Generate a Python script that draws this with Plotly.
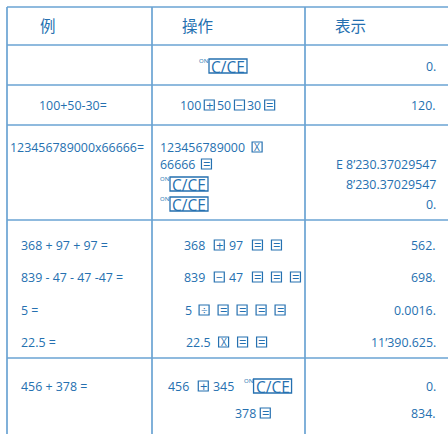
import plotly.graph_objects as go

# ---------------- data ----------------
header = ["例", "操作", "表示"]

examples = ["100+50-30=", "123456789000x66666=",
            "368 + 97 + 97 =", "839 - 47 - 47 -47 =", "5 =", "22.5 =",
            "456 + 378 ="]

# key sequences, one list per printed line; tokens in KEY_SYMBOLS are drawn as
# boxed keys, "C/CE" as the ON/C/CE key, anything else as typed digits
operations = [
    ["C/CE"],
    ["100", "+", "50", "-", "30", "="],
    ["123456789000", "x"],
    ["66666", "="],
    ["C/CE"],
    ["C/CE"],
    ["368", "+", "97", "=", "="],
    ["839", "-", "47", "=", "=", "="],
    ["5", "÷", "=", "=", "=", "="],
    ["22.5", "x", "=", "="],
    ["456", "+", "345", "C/CE"],
    ["378", "="],
]

displays = ["0.", "120.", "E 8’230.37029547", "8’230.37029547", "0.",
            "562.", "698.", "0.0016.", "11’390.625.", "0.", "834."]

KEY_SYMBOLS = {"+": "+", "-": "−", "x": "X", "÷": "÷", "=": "="}
KEY_SIZES = {"+": 13, "-": 12, "x": 10, "÷": 11.5, "=": 13}

# ---------------- layout ----------------
W, H = 448, 434
TXT = "#2570b0"
LINE = "#6aa3d3"
FONT = "Open Sans"
CJK = "Noto Sans CJK SC"
FS = 12.4

row_lines_y = [7, 45, 85, 125, 220, 358]
col_lines_x = [7, 152, 305]

header_pos = [(48, 25), (197, 25), (350, 25)]
example_pos = [(73, 105, "center"), (10, 147, "left"), (21, 245, "left"),
               (21, 277, "left"), (21, 310, "left"), (21, 342, "left"),
               (21, 386, "left")]
# start x, y, gap text->key, gap key->text, gap key->key
op_pos = [(199, 66, 5, 5, 5), (180, 105, 3, 3, 2), (160, 147, 7, 5, 9),
          (160, 164, 6, 5, 9), (160, 184, 6, 5, 9), (160, 204, 6, 5, 9),
          (184, 245, 9, 5, 9), (184, 277, 9, 5, 9), (185, 310, 7, 5, 9),
          (186, 342, 8, 5, 9), (168, 386, 9, 5, 5), (235, 413, 4, 5, 9)]
display_x = 436
display_y = [66, 105, 164, 184, 204, 245, 277, 310, 342, 386, 413]

KEY_W = 10
CCE_W, CCE_H = 38, 14
ON_W = 10


def text_width(s, size=FS):
    w = 0.0
    for ch in s:
        if ch.isdigit():
            w += 0.572
        elif ch == ".":
            w += 0.266
        elif ch == " ":
            w += 0.26
        else:
            w += 0.55
    return w * size


fig = go.Figure()
ann = []
shapes = []


def label(x, y, t, anchor="left", size=FS, family=FONT):
    ann.append(dict(x=x, y=y, text=t, showarrow=False, xanchor=anchor,
                    yanchor="middle", borderpad=0, borderwidth=0,
                    font=dict(family=family, size=size, color=TXT)))


def box(x0, x1, y0, y1, lw):
    shapes.append(dict(type="rect", xref="x", yref="y", x0=x0, x1=x1, y0=y0,
                       y1=y1, line=dict(color=TXT, width=lw),
                       fillcolor="rgba(0,0,0,0)"))


for y in row_lines_y:
    shapes.append(dict(type="line", xref="x", yref="y", x0=col_lines_x[0], x1=W,
                       y0=y, y1=y, line=dict(color=LINE, width=1.7)))
for x in col_lines_x:
    shapes.append(dict(type="line", xref="x", yref="y", x0=x, x1=x,
                       y0=row_lines_y[0], y1=H, line=dict(color=LINE, width=1.7)))

for t, (x, y) in zip(header, header_pos):
    label(x, y, t, "center", 15.5, CJK)

for t, (x, y, a) in zip(examples, example_pos):
    label(x, y, t, a)

for toks, (x0, y, g1, g2, g3) in zip(operations, op_pos):
    cur = x0
    prev = None
    for tok in toks:
        is_key = tok in KEY_SYMBOLS or tok == "C/CE"
        if prev is not None:
            if prev == "text" and is_key:
                cur += g1
            elif prev == "key" and not is_key:
                cur += g2
            else:
                cur += g3
        if tok == "C/CE":
            label(cur, y - 5, "ON", "left", 6)
            cur += ON_W
            box(cur, cur + CCE_W, y - CCE_H / 2, y + CCE_H / 2, 1.3)
            label(cur + CCE_W / 2, y + 0.5, "C/CE", "center", 15.5)
            cur += CCE_W
            prev = "key"
        elif tok in KEY_SYMBOLS:
            box(cur, cur + KEY_W, y - KEY_W / 2, y + KEY_W / 2, 1.2)
            label(cur + KEY_W / 2, y, KEY_SYMBOLS[tok], "center", KEY_SIZES[tok])
            cur += KEY_W
            prev = "key"
        else:
            label(cur, y, tok, "left")
            cur += text_width(tok)
            prev = "text"

for t, y in zip(displays, display_y):
    label(display_x, y, t, "right")

fig.update_layout(
    width=W, height=H, margin=dict(l=0, r=0, t=0, b=0),
    paper_bgcolor="white", plot_bgcolor="white",
    xaxis=dict(range=[0, W], visible=False, fixedrange=True),
    yaxis=dict(range=[H, 0], visible=False, fixedrange=True),
    annotations=ann, shapes=shapes, showlegend=False,
)

fig.write_html("out.html", config={"displayModeBar": False},
               post_script="document.body.style.margin='0';"
                           "document.body.style.overflow='hidden';")
